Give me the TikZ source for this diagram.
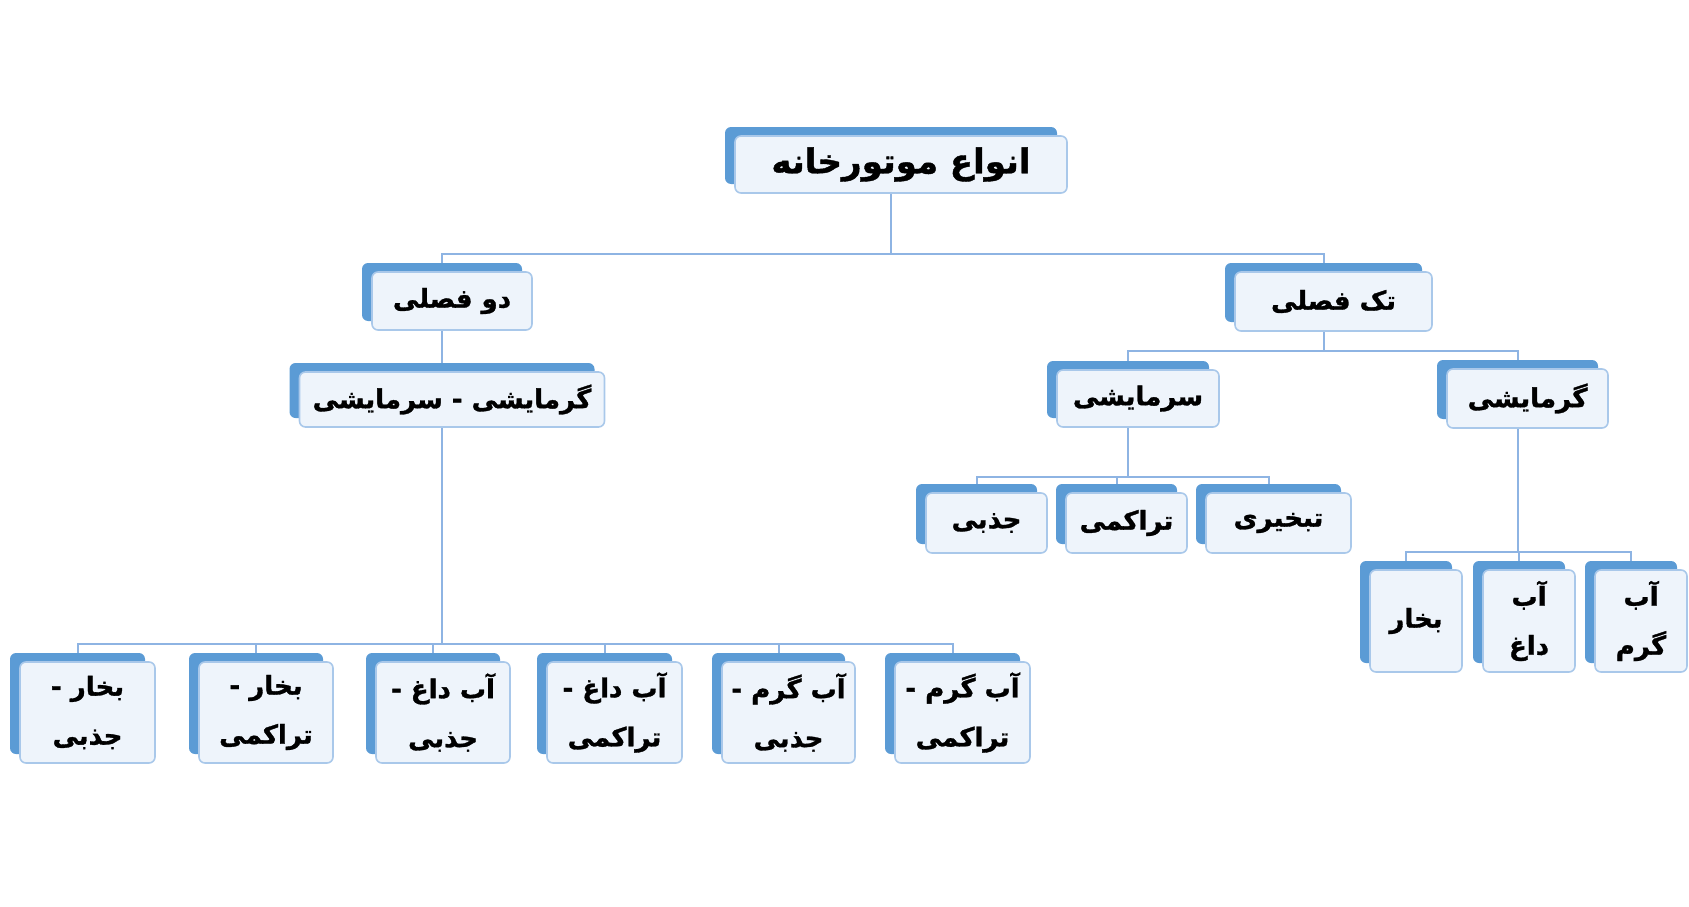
\documentclass[tikz,border=0pt]{standalone}
\usepackage{fontspec}
\newfontfamily\fa[Script=Arabic,BoldFeatures={FakeBold=1.2}]{DejaVu Sans}
\TeXXeTstate=1
\usetikzlibrary{shadows,backgrounds}
\definecolor{backblue}{HTML}{5B9BD5}
\definecolor{edgeblue}{HTML}{A9C8EA}
\definecolor{fillblue}{HTML}{EEF4FB}
\definecolor{linkblue}{HTML}{8EB4E3}
\newcommand\rl[1]{\beginR#1\endR}

\begin{document}
\begin{tikzpicture}
[x=1pt,y=-1pt,link/.style={draw=linkblue,line width=2pt}]
  \tikzstyle{box}=[draw=edgeblue,fill=fillblue,line width=1.6pt,rounded corners=6pt,
    general shadow={fill=backblue,shadow xshift=-10pt,shadow yshift=9pt},
    inner sep=0pt,align=center,text=black,font=\fa\bfseries\fontsize{26}{49}\selectfont]
  \useasboundingbox (0,0) rectangle (1689,907);

  \node[box,minimum width=332pt,minimum height=57pt,font=\fa\bfseries\fontsize{34}{40}\selectfont]
    (root) at (901,164.5) {\rl{انواع موتورخانه}};
  \node[box,minimum width=160pt,minimum height=58pt] (two) at (452,301) {\rl{دو فصلی}};
  \node[box,minimum width=197pt,minimum height=59pt] (one) at (1333.5,301.5) {\rl{تک فصلی}};
  \node[box,minimum width=305pt,minimum height=55pt] (heatcool) at (452,399.5) {\rl{گرمایشی - سرمایشی}};
  \node[box,minimum width=162pt,minimum height=57pt] (cool) at (1138,398.5) {\rl{سرمایشی}};
  \node[box,minimum width=161pt,minimum height=59pt] (heat) at (1527.5,398.5) {\rl{گرمایشی}};

  \node[box,minimum width=121pt,minimum height=60pt] (coolabs) at (986.5,523) {\rl{جذبی}};
  \node[box,minimum width=121pt,minimum height=60pt] (coolacc) at (1126.5,523) {\rl{تراکمی}};
  \node[box,minimum width=145pt,minimum height=60pt] (coolevap) at (1278.5,523) {\rl{تبخیری}};

  \node[box,minimum width=92pt,minimum height=102pt] (steam) at (1416,621) {\rl{بخار}};
  \node[box,minimum width=92pt,minimum height=102pt] (hot) at (1529,621) {\rl{آب}\\\rl{داغ}};
  \node[box,minimum width=92pt,minimum height=102pt] (warm) at (1641,621) {\rl{آب}\\\rl{گرم}};

  \node[box,minimum width=135pt,minimum height=101pt] (hcA) at (87.5,712.5) {\rl{بخار -}\\\rl{جذبی}};
  \node[box,minimum width=134pt,minimum height=101pt] (hcB) at (266,712.5) {\rl{بخار -}\\\rl{تراکمی}};
  \node[box,minimum width=134pt,minimum height=101pt] (hcC) at (443,712.5) {\rl{آب داغ -}\\\rl{جذبی}};
  \node[box,minimum width=135pt,minimum height=101pt] (hcD) at (614.5,712.5) {\rl{آب داغ -}\\\rl{تراکمی}};
  \node[box,minimum width=133pt,minimum height=101pt] (hcE) at (788.5,712.5) {\rl{آب گرم -}\\\rl{جذبی}};
  \node[box,minimum width=135pt,minimum height=101pt] (hcF) at (962.5,712.5) {\rl{آب گرم -}\\\rl{تراکمی}};

  \begin{scope}[on background layer]
    \draw[link] ([xshift=-10pt]root.south) -- ++(0,60) -| ([xshift=-10pt]two.center);
    \draw[link] ([xshift=-10pt]root.south) -- ++(0,60) -| ([xshift=-10pt]one.center);
    \draw[link] ([xshift=-10pt]two.south) -- ([xshift=-10pt]heatcool.center);
    \draw[link] ([xshift=-10pt]one.south) -- ++(0,19) -| ([xshift=-10pt]cool.center);
    \draw[link] ([xshift=-10pt]one.south) -- ++(0,19) -| ([xshift=-10pt]heat.center);
    \foreach \c in {coolabs,coolacc,coolevap}
      \draw[link] ([xshift=-10pt]cool.south) -- ++(0,49) -| ([xshift=-10pt]\c.center);
    \foreach \c in {steam,hot,warm}
      \draw[link] ([xshift=-10pt]heat.south) -- ++(0,123) -| ([xshift=-10pt]\c.center);
    \foreach \c in {hcA,hcB,hcC,hcD,hcE,hcF}
      \draw[link] ([xshift=-10pt]heatcool.south) -- ++(0,216) -| ([xshift=-10pt]\c.center);
  \end{scope}
\end{tikzpicture}
\end{document}
